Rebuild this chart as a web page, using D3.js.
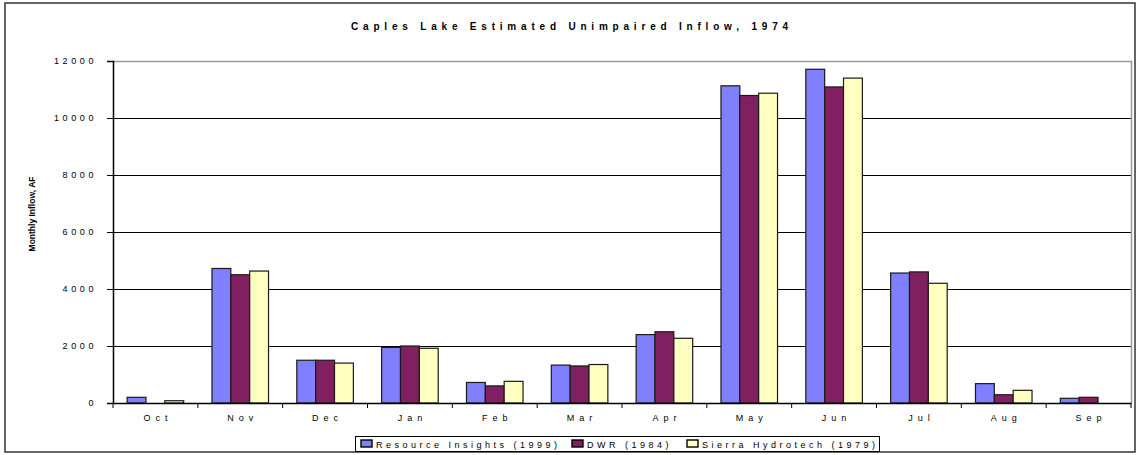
<!DOCTYPE html>
<html><head><meta charset="utf-8">
<script src="https://cdn.jsdelivr.net/npm/d3@7"></script>
<style>body{margin:0;background:#fff;} svg{display:block;font-family:"Liberation Sans",Arial,sans-serif;}</style>
</head><body>
<script>
const months = ["Oct","Nov","Dec","Jan","Feb","Mar","Apr","May","Jun","Jul","Aug","Sep"];
const seriesNames = ["Resource Insights (1999)","DWR (1984)","Sierra Hydrotech (1979)"];
const resourceInsights = [200,4720,1500,1950,720,1330,2400,11130,11710,4560,680,165];
const dwr = [0,4500,1500,2000,600,1300,2500,10790,11090,4600,290,200];
const sierra = [80,4630,1400,1920,760,1350,2270,10870,11400,4200,445,0];
const yTicks = [0,2000,4000,6000,8000,10000,12000];
const colors = ["#8080FF","#802060","#FFFFC0"];

const W=1138,H=455;
const svg=d3.select("body").append("svg").attr("width",W).attr("height",H);
svg.append("rect").attr("x",5).attr("y",3).attr("width",1130).attr("height",449).attr("fill","#fff").attr("stroke","#333").attr("stroke-width",1.5);

const m={l:113,r:1131,t:61,b:403};
const x=d3.scaleBand().domain(months).range([m.l,m.r]).paddingInner(0).paddingOuter(0);
const bw=x.bandwidth();
const xs=d3.scaleBand().domain([0,1,2]).range([bw/6,bw*5/6]).paddingInner(0).paddingOuter(0);
const y=d3.scaleLinear().domain([0,12000]).range([m.b,m.t]);

// gridlines
svg.append("g").selectAll("line").data(yTicks.filter(d=>d>0&&d<12000)).join("line")
 .attr("x1",m.l).attr("x2",m.r).attr("y1",d=>y(d)+0.5).attr("y2",d=>y(d)+0.5).attr("stroke","#000").attr("stroke-width",1);
// plot border top/right gray
svg.append("path").attr("d",`M${m.l},${y(12000)+0.5}H${m.r+0.5}V${m.b}`).attr("fill","none").attr("stroke","#999").attr("stroke-width",1.5);

const data=[resourceInsights,dwr,sierra];
data.forEach((vals,si)=>{
  svg.append("g").selectAll("rect").data(months.map((mo,i)=>({mo,v:vals[i]})).filter(d=>d.v>0)).join("rect")
   .attr("x",d=>x(d.mo)+xs(si)).attr("width",xs.bandwidth())
   .attr("y",d=>y(d.v)).attr("height",d=>y(0)-y(d.v))
   .attr("fill",colors[si]).attr("stroke","#1a1a1a").attr("stroke-width",1.2);
});

// y axis
const ya=d3.axisLeft(y).tickValues(yTicks).tickSize(6).tickPadding(10).tickFormat(d3.format("d"));
const gy=svg.append("g").attr("transform",`translate(${m.l},0)`).call(ya);
gy.select(".domain").attr("stroke","#000").attr("stroke-width",1.5);
gy.selectAll(".tick line").attr("stroke","#000");
gy.selectAll("text").attr("font-size",9).attr("letter-spacing","3.6px").attr("fill","#000").attr("font-family","Liberation Sans, Arial, sans-serif");

// x axis
const xa=d3.axisBottom(x).tickSize(0).tickPadding(12);
const gx=svg.append("g").attr("transform",`translate(0,${m.b})`).call(xa);
gx.select(".domain").attr("stroke","#000").attr("stroke-width",1.5);
gx.selectAll("text").attr("font-size",9).attr("letter-spacing","5px").attr("fill","#000").attr("dx","2.5px").attr("font-family","Liberation Sans, Arial, sans-serif");
svg.append("g").selectAll("line").data(d3.range(months.length+1)).join("line")
 .attr("x1",i=>m.l+i*bw).attr("x2",i=>m.l+i*bw).attr("y1",m.b).attr("y2",m.b+5).attr("stroke","#000");

// title
svg.append("text").attr("x",572).attr("y",30).attr("text-anchor","middle").attr("font-size",10).attr("font-weight","bold").attr("letter-spacing","4.8px").text("Caples Lake Estimated Unimpaired Inflow, 1974");
// y label
svg.append("text").attr("transform","translate(35,214) rotate(-90)").attr("text-anchor","middle").attr("font-size",8.5).attr("font-weight","bold").text("Monthly Inflow, AF");

// legend
const lg=svg.append("g");
lg.append("rect").attr("x",355.5).attr("y",436.5).attr("width",524).attr("height",15).attr("fill","#fff").attr("stroke","#000").attr("stroke-width",1);
const legX=[361,572,687];
seriesNames.forEach((n,i)=>{
  lg.append("rect").attr("x",legX[i]).attr("y",440).attr("width",11).attr("height",7).attr("fill",colors[i]).attr("stroke","#000").attr("stroke-width",1.4);
  lg.append("text").attr("x",legX[i]+15).attr("y",448).attr("font-size",9).attr("letter-spacing","3.5px").text(n);
});
</script>
</body></html>
